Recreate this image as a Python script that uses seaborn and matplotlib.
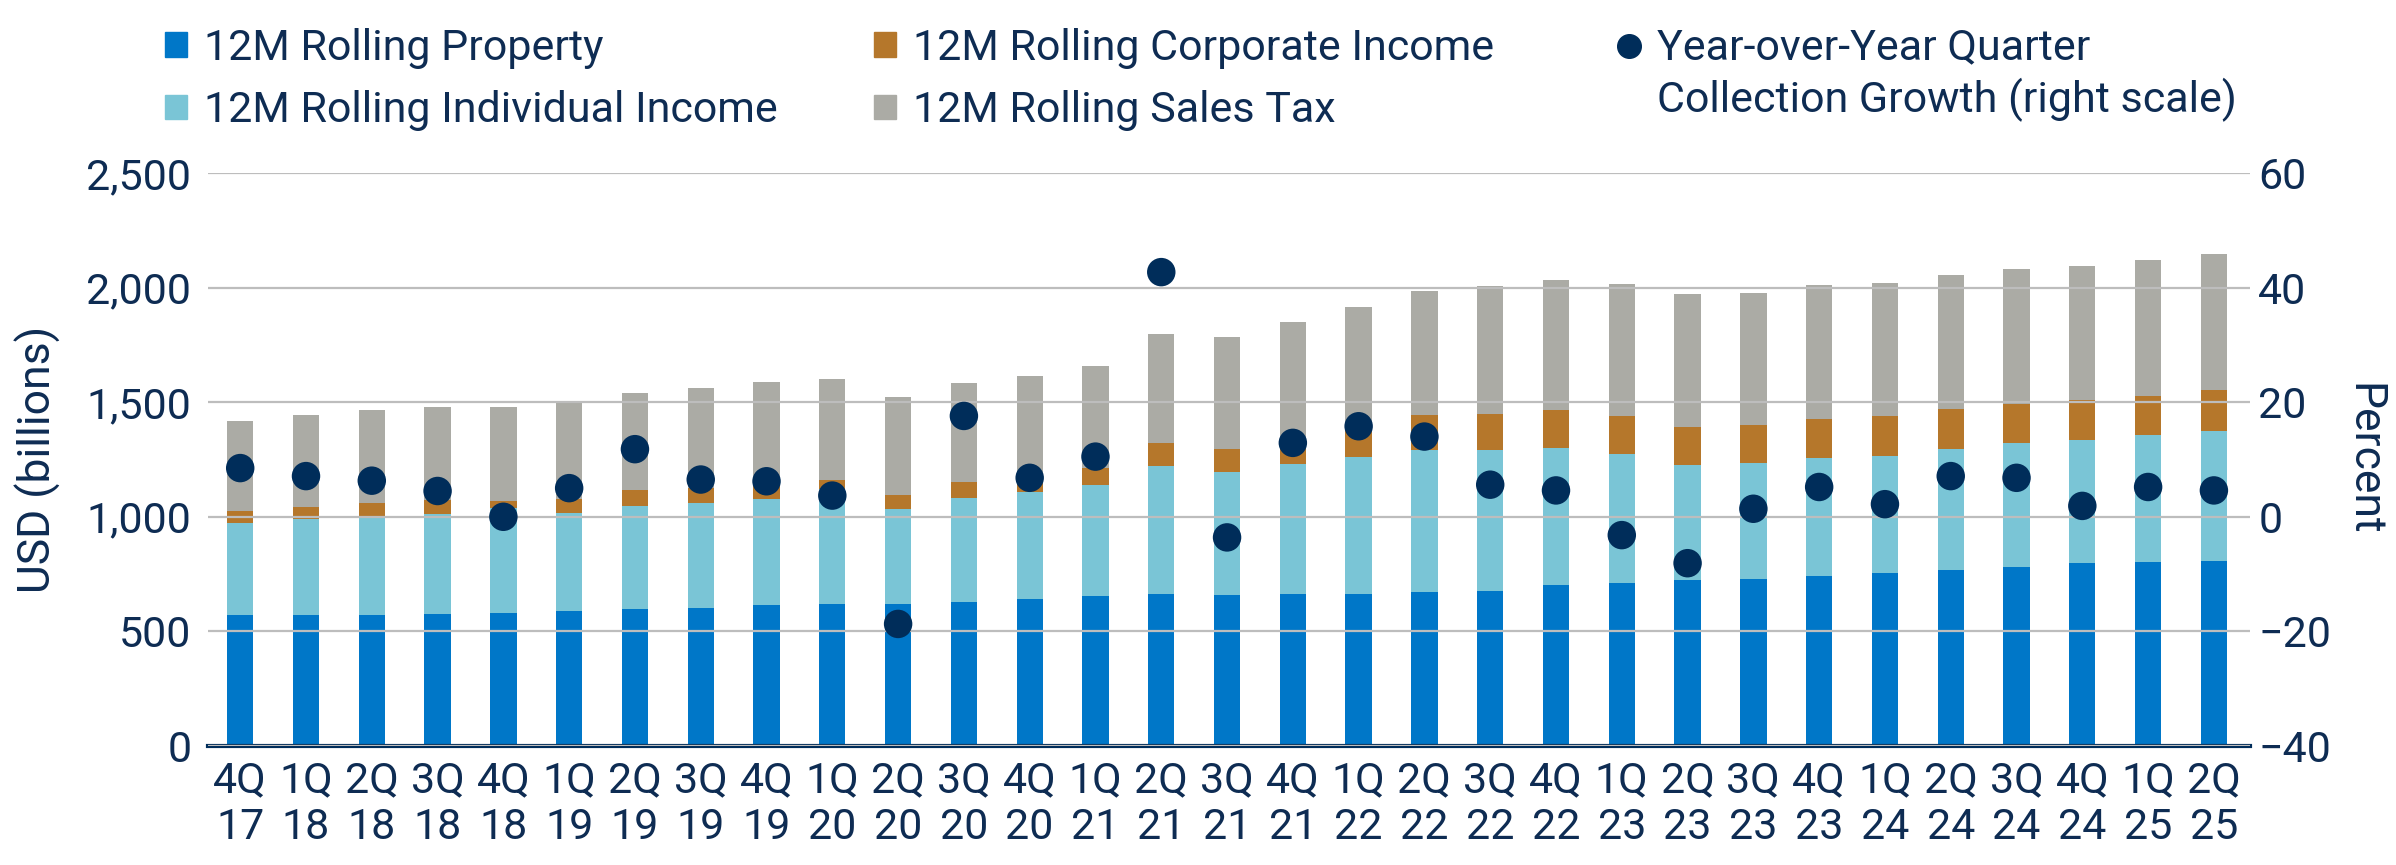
import numpy as np
import matplotlib
matplotlib.use("Agg")
from matplotlib import pyplot as plt
from matplotlib import font_manager
from matplotlib.patches import Patch
from matplotlib.lines import Line2D
import seaborn as sns

# quarters on the x axis
quarters = ["4Q\n17",
            "1Q\n18", "2Q\n18", "3Q\n18", "4Q\n18",
            "1Q\n19", "2Q\n19", "3Q\n19", "4Q\n19",
            "1Q\n20", "2Q\n20", "3Q\n20", "4Q\n20",
            "1Q\n21", "2Q\n21", "3Q\n21", "4Q\n21",
            "1Q\n22", "2Q\n22", "3Q\n22", "4Q\n22",
            "1Q\n23", "2Q\n23", "3Q\n23", "4Q\n23",
            "1Q\n24", "2Q\n24", "3Q\n24", "4Q\n24",
            "1Q\n25", "2Q\n25"]

# 12M rolling collections, USD billions (segments of each stack)
property_tax = [570, 571, 571, 576, 580, 589, 597, 602, 615, 619, 619, 628, 641, 654, 661, 657,
                663, 663, 672, 676, 702, 712, 724, 728, 741, 754, 766, 781, 798, 802, 807]
individual_income = [404, 420, 432, 437, 460, 427, 452, 458, 463, 501, 416, 456, 465, 484, 560, 538,
                     567, 597, 620, 615, 596, 560, 504, 505, 515, 511, 528, 539, 536, 554, 567]
corporate_income = [51, 51, 57, 61, 28, 63, 69, 65, 57, 40, 58, 67, 54, 77, 100, 100,
                    100, 140, 151, 157, 167, 167, 163, 167, 170, 174, 175, 174, 175, 173, 178]
sales_tax = [394, 401, 405, 404, 410, 421, 421, 436, 452, 440, 430, 433, 455, 441, 478, 490,
             520, 516, 541, 558, 566, 576, 581, 577, 584, 580, 586, 589, 587, 590, 593]

# year-over-year quarter collection growth, percent (right scale)
yoy_growth = [8.5, 7.1, 6.3, 4.5, 0.0, 5.0, 11.8, 6.5, 6.2, 3.7, -18.7, 17.6, 6.8, 10.5, 42.7, -3.6,
              12.9, 15.8, 14.0, 5.6, 4.6, -3.2, -8.1, 1.4, 5.2, 2.2, 7.1, 6.8, 1.9, 5.2, 4.6]

left_ticks = [0, 500, 1000, 1500, 2000, 2500]
right_ticks = [-40, -20, 0, 20, 40, 60]

C_PROP = "#0077C8"
C_INDIV = "#7AC5D6"
C_CORP = "#B5772B"
C_SALES = "#ABABA5"
C_DOT = "#002D5A"
C_TEXT = "#0E2C53"
C_GRID = "#BDBDBD"


def main():
    sns.set_theme(style="white")
    names = {f.name for f in font_manager.fontManager.ttflist}
    narrow = "Liberation Sans Narrow" if "Liberation Sans Narrow" in names else "Roboto"
    plt.rcParams["font.family"] = [narrow, "DejaVu Sans"]

    fig = plt.figure(figsize=(23.96, 8.65), dpi=100)
    ax = fig.add_axes([0.0868, 0.1376, 0.8523, 0.6624])

    # stacked bars drawn as overlapping cumulative totals
    p = np.array(property_tax)
    i = p + np.array(individual_income)
    c = i + np.array(corporate_income)
    s = c + np.array(sales_tax)
    for tops, col in [(s, C_SALES), (c, C_CORP), (i, C_INDIV), (p, C_PROP)]:
        sns.barplot(x=quarters, y=tops, color=col, saturation=1, width=0.4,
                    errorbar=None, linewidth=0, ax=ax)

    ax.set_ylim(0, 2500)
    ax.set_xlim(-0.49, len(quarters) - 0.45)
    ax.set_yticks(left_ticks)
    ax.set_yticklabels([f"{t:,}" for t in left_ticks])
    ax.set_axisbelow(False)
    ax.yaxis.grid(True, color=C_GRID, lw=1.6)
    ax.xaxis.grid(False)
    for side in ["top", "right", "left"]:
        ax.spines[side].set_visible(False)
    ax.spines["bottom"].set_color(C_DOT)
    ax.spines["bottom"].set_linewidth(3)
    ax.tick_params(axis="both", length=0, colors=C_TEXT, labelsize=31)
    ax.tick_params(axis="x", pad=10)
    ax.tick_params(axis="y", pad=12)
    for lab in ax.get_xticklabels():
        lab.set_linespacing(1.2)
    ax.set_ylabel("USD (billions)", fontsize=32, color=C_TEXT, labelpad=18,
                  family=["Roboto", "DejaVu Sans"])

    # growth dots on the right scale
    ax2 = ax.twinx()
    sns.scatterplot(x=np.arange(len(quarters)), y=yoy_growth, color=C_DOT, s=420,
                    edgecolor="none", ax=ax2, zorder=5)
    ax2.set_ylim(-40, 60)
    ax2.set_yticks(right_ticks)
    ax2.grid(False)
    for side in ["top", "right", "left", "bottom"]:
        ax2.spines[side].set_visible(False)
    ax2.tick_params(axis="y", length=0, colors=C_TEXT, labelsize=31, pad=6)
    ax2.set_ylabel("Percent", fontsize=32, color=C_TEXT, rotation=270, labelpad=38,
                   family=["Roboto", "DejaVu Sans"])

    # legend: three columns placed separately, the dot label runs onto a second line
    columns = [
        (0.0689, 0.5, [Patch(color=C_PROP), Patch(color=C_INDIV)],
         ["12M Rolling Property", "12M Rolling Individual Income"]),
        (0.3648, 0.5, [Patch(color=C_CORP), Patch(color=C_SALES)],
         ["12M Rolling Corporate Income", "12M Rolling Sales Tax"]),
        (0.6755, 0.22, [Line2D([], [], ls="none", marker="o", markersize=17, color=C_DOT),
                        Line2D([], [], ls="none")],
         ["Year-over-Year Quarter", "Collection Growth (right scale)"]),
    ]
    for x0, gap, hs, ls in columns:
        fig.legend(hs, ls, loc="upper left", bbox_to_anchor=(x0, 0.968),
                   frameon=False, fontsize=31, labelcolor=C_TEXT, handlelength=0.5,
                   handleheight=0.5, handletextpad=0.4, labelspacing=gap,
                   borderpad=0, borderaxespad=0)

    fig.savefig("out.png", dpi=100)


if __name__ == "__main__":
    main()
